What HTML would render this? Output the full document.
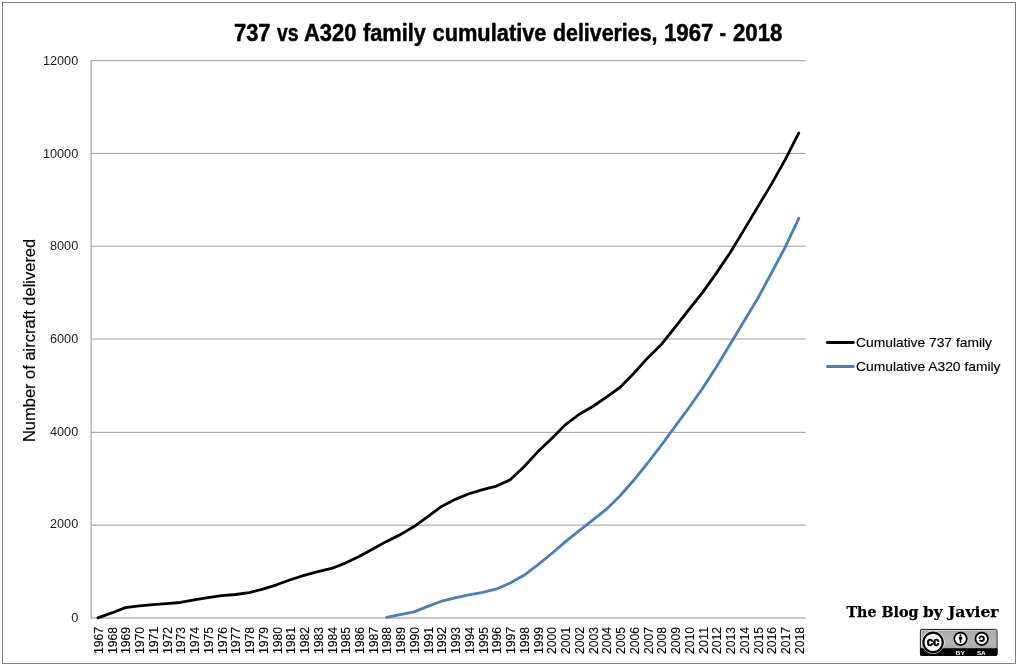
<!DOCTYPE html>
<html><head><meta charset="utf-8"><title>737 vs A320 family cumulative deliveries</title>
<style>
html,body{margin:0;padding:0;background:#fff;}
body{width:1019px;height:668px;overflow:hidden;}
svg{display:block;}
text{font-family:"Liberation Sans",sans-serif;fill:#000;}
.cal{font-size:12.7px;fill:#1a1a1a;}
.xl{font-size:12.4px;stroke:#000;stroke-width:0.12px;}
.ttl{font-weight:bold;font-size:23px;stroke:#000;stroke-width:0.45px;}
.lg{font-size:13.5px;stroke:#000;stroke-width:0.15px;}
.yt{font-size:16.2px;stroke:#000;stroke-width:0.15px;}
.ser{font-family:"DejaVu Serif","Liberation Serif",serif;font-weight:bold;font-size:15.2px;stroke:#000;stroke-width:0.25px;}
</style></head><body>
<svg width="1019" height="668" viewBox="0 0 1019 668">
<rect x="0" y="0" width="1019" height="668" fill="#fff"/>
<rect x="2.5" y="2.5" width="1013" height="661" fill="none" stroke="#808080" stroke-width="1"/>

<line x1="91.10" y1="525.15" x2="805.70" y2="525.15" stroke="#9c9c9c" stroke-width="1"/>
<line x1="91.10" y1="432.35" x2="805.70" y2="432.35" stroke="#9c9c9c" stroke-width="1"/>
<line x1="91.10" y1="339.00" x2="805.70" y2="339.00" stroke="#9c9c9c" stroke-width="1"/>
<line x1="91.10" y1="246.15" x2="805.70" y2="246.15" stroke="#9c9c9c" stroke-width="1"/>
<line x1="91.10" y1="153.40" x2="805.70" y2="153.40" stroke="#9c9c9c" stroke-width="1"/>
<line x1="91.10" y1="60.65" x2="805.70" y2="60.65" stroke="#9c9c9c" stroke-width="1"/>
<line x1="91.10" y1="60.10" x2="91.10" y2="618.50" stroke="#929292" stroke-width="1"/>
<line x1="91.10" y1="618.00" x2="805.70" y2="618.00" stroke="#929292" stroke-width="1"/>
<text class="cal" x="78.25" y="622.40" text-anchor="end" textLength="7.06" lengthAdjust="spacingAndGlyphs">0</text>
<text class="cal" x="78.25" y="528.40" text-anchor="end" textLength="28.24" lengthAdjust="spacingAndGlyphs">2000</text>
<text class="cal" x="78.25" y="435.70" text-anchor="end" textLength="28.24" lengthAdjust="spacingAndGlyphs">4000</text>
<text class="cal" x="78.25" y="343.00" text-anchor="end" textLength="28.24" lengthAdjust="spacingAndGlyphs">6000</text>
<text class="cal" x="78.25" y="250.35" text-anchor="end" textLength="28.24" lengthAdjust="spacingAndGlyphs">8000</text>
<text class="cal" x="78.25" y="157.90" text-anchor="end" textLength="35.30" lengthAdjust="spacingAndGlyphs">10000</text>
<text class="cal" x="78.25" y="65.00" text-anchor="end" textLength="35.30" lengthAdjust="spacingAndGlyphs">12000</text>
<text class="xl" transform="translate(102.89,626.85) rotate(-90)" text-anchor="end" textLength="27.10" lengthAdjust="spacingAndGlyphs">1967</text>
<text class="xl" transform="translate(116.63,626.85) rotate(-90)" text-anchor="end" textLength="27.10" lengthAdjust="spacingAndGlyphs">1968</text>
<text class="xl" transform="translate(130.38,626.85) rotate(-90)" text-anchor="end" textLength="27.10" lengthAdjust="spacingAndGlyphs">1969</text>
<text class="xl" transform="translate(144.12,626.85) rotate(-90)" text-anchor="end" textLength="27.10" lengthAdjust="spacingAndGlyphs">1970</text>
<text class="xl" transform="translate(157.86,626.85) rotate(-90)" text-anchor="end" textLength="27.10" lengthAdjust="spacingAndGlyphs">1971</text>
<text class="xl" transform="translate(171.60,626.85) rotate(-90)" text-anchor="end" textLength="27.10" lengthAdjust="spacingAndGlyphs">1972</text>
<text class="xl" transform="translate(185.34,626.85) rotate(-90)" text-anchor="end" textLength="27.10" lengthAdjust="spacingAndGlyphs">1973</text>
<text class="xl" transform="translate(199.09,626.85) rotate(-90)" text-anchor="end" textLength="27.10" lengthAdjust="spacingAndGlyphs">1974</text>
<text class="xl" transform="translate(212.83,626.85) rotate(-90)" text-anchor="end" textLength="27.10" lengthAdjust="spacingAndGlyphs">1975</text>
<text class="xl" transform="translate(226.57,626.85) rotate(-90)" text-anchor="end" textLength="27.10" lengthAdjust="spacingAndGlyphs">1976</text>
<text class="xl" transform="translate(240.31,626.85) rotate(-90)" text-anchor="end" textLength="27.10" lengthAdjust="spacingAndGlyphs">1977</text>
<text class="xl" transform="translate(254.06,626.85) rotate(-90)" text-anchor="end" textLength="27.10" lengthAdjust="spacingAndGlyphs">1978</text>
<text class="xl" transform="translate(267.80,626.85) rotate(-90)" text-anchor="end" textLength="27.10" lengthAdjust="spacingAndGlyphs">1979</text>
<text class="xl" transform="translate(281.54,626.85) rotate(-90)" text-anchor="end" textLength="27.10" lengthAdjust="spacingAndGlyphs">1980</text>
<text class="xl" transform="translate(295.28,626.85) rotate(-90)" text-anchor="end" textLength="27.10" lengthAdjust="spacingAndGlyphs">1981</text>
<text class="xl" transform="translate(309.03,626.85) rotate(-90)" text-anchor="end" textLength="27.10" lengthAdjust="spacingAndGlyphs">1982</text>
<text class="xl" transform="translate(322.77,626.85) rotate(-90)" text-anchor="end" textLength="27.10" lengthAdjust="spacingAndGlyphs">1983</text>
<text class="xl" transform="translate(336.51,626.85) rotate(-90)" text-anchor="end" textLength="27.10" lengthAdjust="spacingAndGlyphs">1984</text>
<text class="xl" transform="translate(350.25,626.85) rotate(-90)" text-anchor="end" textLength="27.10" lengthAdjust="spacingAndGlyphs">1985</text>
<text class="xl" transform="translate(364.00,626.85) rotate(-90)" text-anchor="end" textLength="27.10" lengthAdjust="spacingAndGlyphs">1986</text>
<text class="xl" transform="translate(377.74,626.85) rotate(-90)" text-anchor="end" textLength="27.10" lengthAdjust="spacingAndGlyphs">1987</text>
<text class="xl" transform="translate(391.48,626.85) rotate(-90)" text-anchor="end" textLength="27.10" lengthAdjust="spacingAndGlyphs">1988</text>
<text class="xl" transform="translate(405.22,626.85) rotate(-90)" text-anchor="end" textLength="27.10" lengthAdjust="spacingAndGlyphs">1989</text>
<text class="xl" transform="translate(418.96,626.85) rotate(-90)" text-anchor="end" textLength="27.10" lengthAdjust="spacingAndGlyphs">1990</text>
<text class="xl" transform="translate(432.71,626.85) rotate(-90)" text-anchor="end" textLength="27.10" lengthAdjust="spacingAndGlyphs">1991</text>
<text class="xl" transform="translate(446.45,626.85) rotate(-90)" text-anchor="end" textLength="27.10" lengthAdjust="spacingAndGlyphs">1992</text>
<text class="xl" transform="translate(460.19,626.85) rotate(-90)" text-anchor="end" textLength="27.10" lengthAdjust="spacingAndGlyphs">1993</text>
<text class="xl" transform="translate(473.93,626.85) rotate(-90)" text-anchor="end" textLength="27.10" lengthAdjust="spacingAndGlyphs">1994</text>
<text class="xl" transform="translate(487.68,626.85) rotate(-90)" text-anchor="end" textLength="27.10" lengthAdjust="spacingAndGlyphs">1995</text>
<text class="xl" transform="translate(501.42,626.85) rotate(-90)" text-anchor="end" textLength="27.10" lengthAdjust="spacingAndGlyphs">1996</text>
<text class="xl" transform="translate(515.16,626.85) rotate(-90)" text-anchor="end" textLength="27.10" lengthAdjust="spacingAndGlyphs">1997</text>
<text class="xl" transform="translate(528.90,626.85) rotate(-90)" text-anchor="end" textLength="27.10" lengthAdjust="spacingAndGlyphs">1998</text>
<text class="xl" transform="translate(542.64,626.85) rotate(-90)" text-anchor="end" textLength="27.10" lengthAdjust="spacingAndGlyphs">1999</text>
<text class="xl" transform="translate(556.39,626.85) rotate(-90)" text-anchor="end" textLength="27.10" lengthAdjust="spacingAndGlyphs">2000</text>
<text class="xl" transform="translate(570.13,626.85) rotate(-90)" text-anchor="end" textLength="27.10" lengthAdjust="spacingAndGlyphs">2001</text>
<text class="xl" transform="translate(583.87,626.85) rotate(-90)" text-anchor="end" textLength="27.10" lengthAdjust="spacingAndGlyphs">2002</text>
<text class="xl" transform="translate(597.61,626.85) rotate(-90)" text-anchor="end" textLength="27.10" lengthAdjust="spacingAndGlyphs">2003</text>
<text class="xl" transform="translate(611.36,626.85) rotate(-90)" text-anchor="end" textLength="27.10" lengthAdjust="spacingAndGlyphs">2004</text>
<text class="xl" transform="translate(625.10,626.85) rotate(-90)" text-anchor="end" textLength="27.10" lengthAdjust="spacingAndGlyphs">2005</text>
<text class="xl" transform="translate(638.84,626.85) rotate(-90)" text-anchor="end" textLength="27.10" lengthAdjust="spacingAndGlyphs">2006</text>
<text class="xl" transform="translate(652.58,626.85) rotate(-90)" text-anchor="end" textLength="27.10" lengthAdjust="spacingAndGlyphs">2007</text>
<text class="xl" transform="translate(666.33,626.85) rotate(-90)" text-anchor="end" textLength="27.10" lengthAdjust="spacingAndGlyphs">2008</text>
<text class="xl" transform="translate(680.07,626.85) rotate(-90)" text-anchor="end" textLength="27.10" lengthAdjust="spacingAndGlyphs">2009</text>
<text class="xl" transform="translate(693.81,626.85) rotate(-90)" text-anchor="end" textLength="27.10" lengthAdjust="spacingAndGlyphs">2010</text>
<text class="xl" transform="translate(707.55,626.85) rotate(-90)" text-anchor="end" textLength="27.10" lengthAdjust="spacingAndGlyphs">2011</text>
<text class="xl" transform="translate(721.29,626.85) rotate(-90)" text-anchor="end" textLength="27.10" lengthAdjust="spacingAndGlyphs">2012</text>
<text class="xl" transform="translate(735.04,626.85) rotate(-90)" text-anchor="end" textLength="27.10" lengthAdjust="spacingAndGlyphs">2013</text>
<text class="xl" transform="translate(748.78,626.85) rotate(-90)" text-anchor="end" textLength="27.10" lengthAdjust="spacingAndGlyphs">2014</text>
<text class="xl" transform="translate(762.52,626.85) rotate(-90)" text-anchor="end" textLength="27.10" lengthAdjust="spacingAndGlyphs">2015</text>
<text class="xl" transform="translate(776.26,626.85) rotate(-90)" text-anchor="end" textLength="27.10" lengthAdjust="spacingAndGlyphs">2016</text>
<text class="xl" transform="translate(790.01,626.85) rotate(-90)" text-anchor="end" textLength="27.10" lengthAdjust="spacingAndGlyphs">2017</text>
<text class="xl" transform="translate(803.75,626.85) rotate(-90)" text-anchor="end" textLength="27.10" lengthAdjust="spacingAndGlyphs">2018</text>
<text class="yt" transform="translate(35.3,442.06) rotate(-90)" textLength="203.26" lengthAdjust="spacingAndGlyphs">Number of aircraft delivered</text>
<polyline points="386.56,617.26 400.30,614.56 414.04,611.87 427.79,606.34 441.53,601.19 455.27,597.89 469.01,594.91 482.76,592.31 496.50,588.97 510.24,583.07 523.98,575.27 537.73,564.95 551.47,553.76 565.21,541.82 578.95,530.86 592.69,520.04 606.44,509.21 620.18,495.79 633.92,480.04 647.66,463.00 661.41,445.07 675.15,426.39 688.89,407.77 702.63,388.21 716.38,367.08 730.12,344.18 743.86,321.42 757.60,298.61 771.34,273.29 785.09,247.38 798.83,218.30" fill="none" stroke="#4a7ebb" stroke-width="2.8" stroke-linejoin="round" stroke-linecap="round"/>
<polyline points="97.97,617.81 111.71,612.94 125.46,607.64 139.20,605.92 152.94,604.58 166.68,603.55 180.43,602.49 194.17,599.93 207.91,597.56 221.65,595.66 235.39,594.50 249.14,592.64 262.88,589.06 276.62,584.79 290.36,579.77 304.11,575.36 317.85,571.55 331.59,568.44 345.33,563.10 359.08,556.55 372.82,549.07 386.56,541.40 400.30,534.62 414.04,526.54 427.79,516.55 441.53,506.43 455.27,499.37 469.01,493.75 482.76,489.61 496.50,486.08 510.24,479.81 523.98,466.71 537.73,451.85 551.47,438.75 565.21,424.86 578.95,414.50 592.69,406.47 606.44,397.08 620.18,387.24 633.92,373.21 647.66,357.88 661.41,344.41 675.15,327.13 688.89,309.66 702.63,292.39 716.38,273.11 730.12,252.67 743.86,230.14 757.60,207.15 771.34,184.39 785.09,159.82 798.83,132.88" fill="none" stroke="#000" stroke-width="2.8" stroke-linejoin="round" stroke-linecap="round"/>
<text class="ttl" x="233.98" y="40.8" textLength="36.53" lengthAdjust="spacingAndGlyphs">737</text>
<text class="ttl" x="276.99" y="40.8" textLength="21.52" lengthAdjust="spacingAndGlyphs">vs</text>
<text class="ttl" x="303.98" y="40.8" textLength="52.54" lengthAdjust="spacingAndGlyphs">A320</text>
<text class="ttl" x="362.99" y="40.8" textLength="63.01" lengthAdjust="spacingAndGlyphs">family</text>
<text class="ttl" x="432.50" y="40.8" textLength="114.01" lengthAdjust="spacingAndGlyphs">cumulative</text>
<text class="ttl" x="553.00" y="40.8" textLength="104.51" lengthAdjust="spacingAndGlyphs">deliveries,</text>
<text class="ttl" x="663.98" y="40.8" textLength="49.54" lengthAdjust="spacingAndGlyphs">1967</text>
<text class="ttl" x="719.38" y="40.8" textLength="6.62" lengthAdjust="spacingAndGlyphs">-</text>
<text class="ttl" x="732.98" y="40.8" textLength="49.52" lengthAdjust="spacingAndGlyphs">2018</text>
<line x1="827.3" y1="342.5" x2="853.4" y2="342.5" stroke="#000" stroke-width="2.8" stroke-linecap="round"/>
<line x1="827.3" y1="366.5" x2="853.4" y2="366.5" stroke="#4a7ebb" stroke-width="2.8" stroke-linecap="round"/>
<text class="lg" x="856.00" y="346.90" textLength="136.00" lengthAdjust="spacingAndGlyphs">Cumulative 737 family</text>
<text class="lg" x="856.00" y="370.60" textLength="144.50" lengthAdjust="spacingAndGlyphs">Cumulative A320 family</text>
<text class="ser" x="846.49" y="617.3" textLength="30.02" lengthAdjust="spacingAndGlyphs">The</text>
<text class="ser" x="881.49" y="617.3" textLength="37.05" lengthAdjust="spacingAndGlyphs">Blog</text>
<text class="ser" x="922.96" y="617.3" textLength="19.55" lengthAdjust="spacingAndGlyphs">by</text>
<text class="ser" x="947.99" y="617.3" textLength="50.53" lengthAdjust="spacingAndGlyphs">Javier</text>
<defs><linearGradient id="gg" x1="0" y1="0" x2="0" y2="1"><stop offset="0" stop-color="#a5aba4"/><stop offset="0.55" stop-color="#b3b9b2"/><stop offset="1" stop-color="#a9afa8"/></linearGradient></defs>
<g id="cc">
<rect x="920.4" y="629.4" width="76.6" height="26" rx="1.6" fill="#abb1aa" stroke="#000" stroke-width="1"/>
<rect x="920.9" y="629.9" width="75.6" height="18.6" fill="url(#gg)"/>
<path d="M921.4 647.5V630.4H996" fill="none" stroke="#e3e6e2" stroke-width="0.8" opacity="0.8"/>
<path d="M920 648.3h77.5v6.2q0 1.4 -1.4 1.4h-74.7q-1.4 0 -1.4 -1.4z" fill="#000"/>
<circle cx="933.1" cy="642.3" r="11.5" fill="#fff" opacity="0.8"/>
<circle cx="933.1" cy="642.3" r="10.75" fill="#000"/>
<circle cx="933.1" cy="642.3" r="8.6" fill="#fff"/>
<text x="933.1" y="645.8" font-size="12.7" font-weight="bold" text-anchor="middle" textLength="12.8" lengthAdjust="spacingAndGlyphs" stroke="#000" stroke-width="0.7">cc</text>
<circle cx="960.5" cy="638.8" r="6.25" fill="#fff" stroke="#000" stroke-width="1.75"/>
<circle cx="960.5" cy="635.2" r="1.0" fill="#000"/>
<path d="M958.85 637.4q0 -0.8 0.8 -0.8h1.7q0.8 0 0.8 0.8v1.9l-0.75 0.5l-0.15 2.9h-1.5l-0.15 -2.9l-0.75 -0.5z" fill="#000"/>
<circle cx="981.7" cy="638.8" r="6.25" fill="#fff" stroke="#000" stroke-width="1.75"/>
<path d="M979.55 637.7a2.3 2.3 0 1 1 0.2 2.3" fill="none" stroke="#000" stroke-width="1.9"/>
<path d="M977.9 637.5h3.3l-1.6 2z" fill="#000"/>
<text x="960.3" y="654.6" font-size="6.2" font-weight="bold" text-anchor="middle" style="fill:#fff" textLength="9.4" lengthAdjust="spacingAndGlyphs">BY</text>
<text x="981.3" y="654.6" font-size="6.2" font-weight="bold" text-anchor="middle" style="fill:#fff" textLength="8.8" lengthAdjust="spacingAndGlyphs">SA</text>
</g>
</svg></body></html>
